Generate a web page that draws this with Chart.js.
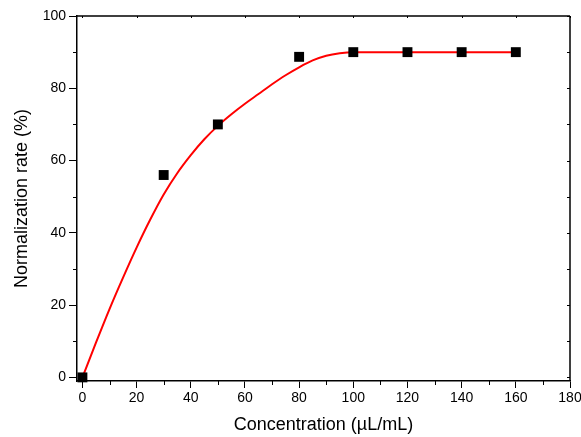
<!DOCTYPE html>
<html><head><meta charset="utf-8">
<script src="https://cdn.jsdelivr.net/npm/chart.js@4/dist/chart.umd.min.js"></script>
<style>html,body{margin:0;padding:0;background:#fff;overflow:hidden;}</style>
</head><body>
<canvas id="c" width="581" height="437"></canvas>
<script>
const concentrations = [0, 30, 50, 80, 100, 120, 140, 160];
const normalizationRates = [0, 56, 70, 88.7, 90, 90, 90, 90];
const fitConcentrations = [0, 5, 10, 15, 20, 25, 30, 35, 40, 45, 50, 55, 60, 65, 70, 75, 80, 85, 90, 95, 100, 110, 120, 130, 140, 150, 160];
const fitRates = [0, 9.6, 18.9, 27.6, 35.9, 43.6, 50.6, 56.5, 61.5, 65.9, 69.6, 72.8, 75.7, 78.4, 81.1, 83.6, 85.8, 87.7, 89.0, 89.7, 90, 90, 90, 90, 90, 90, 90];
const xTickValues = [0, 20, 40, 60, 80, 100, 120, 140, 160, 180];
const xMinorTicks = [10, 30, 50, 70, 90, 110, 130, 150, 170];
const yTickValues = [0, 20, 40, 60, 80, 100];
const yMinorTicks = [10, 30, 50, 70, 90];
const xTitle = 'Concentration (\u00b5L/mL)';
const yTitle = 'Normalization rate (%)';

const FONT = '"Liberation Sans", Arial, sans-serif';
const AXIS = '#000';

const framePlugin = {
  id: 'frame',
  afterDraw(chart) {
    const ctx = chart.ctx, a = chart.chartArea;
    const xs = chart.scales.x, ys = chart.scales.y;
    ctx.save();
    ctx.strokeStyle = AXIS;
    ctx.lineWidth = 1.5;
    ctx.beginPath();
    ctx.moveTo(a.left, a.top); ctx.lineTo(a.right, a.top);
    ctx.moveTo(a.right, a.top); ctx.lineTo(a.right, a.bottom);
    ctx.stroke();
    ctx.lineWidth = 1;
    ctx.beginPath();
    xMinorTicks.forEach(v => {
      const p = Math.round(xs.getPixelForValue(v)) + 0.5;
      ctx.moveTo(p, a.bottom); ctx.lineTo(p, a.bottom + 4);
    });
    yMinorTicks.forEach(v => {
      const p = Math.round(ys.getPixelForValue(v)) + 0.5;
      ctx.moveTo(a.left, p); ctx.lineTo(a.left - 4, p);
      ctx.moveTo(a.right, p); ctx.lineTo(a.right - 3, p);
    });
    yTickValues.forEach(v => {
      const p = Math.round(ys.getPixelForValue(v)) + 0.5;
      ctx.moveTo(a.right, p); ctx.lineTo(a.right - 3, p);
    });
    xTickValues.forEach(v => {
      const p = Math.round(xs.getPixelForValue(v)) + 0.5;
      ctx.moveTo(p, a.top); ctx.lineTo(p, a.top + 2);
    });
    ctx.stroke();
    ctx.restore();
  }
};

new Chart(document.getElementById('c'), {
  type: 'scatter',
  data: {
    datasets: [
      {
        type: 'line',
        data: fitConcentrations.map((x, i) => ({x, y: fitRates[i]})),
        borderColor: '#ff0000',
        borderWidth: 2,
        pointRadius: 0,
        cubicInterpolationMode: 'monotone',
        fill: false,
        order: 2
      },
      {
        data: concentrations.map((x, i) => ({x, y: normalizationRates[i]})),
        pointStyle: 'rect',
        pointRadius: 7,
        pointHoverRadius: 7,
        backgroundColor: '#000',
        borderColor: '#000',
        borderWidth: 0,
        clip: false,
        order: 1
      }
    ]
  },
  options: {
    responsive: false,
    animation: false,
    devicePixelRatio: 1,
    layout: {padding: {left: 0, right: 11, top: 16, bottom: 0}},
    plugins: {legend: {display: false}, tooltip: {enabled: false}},
    scales: {
      x: {
        type: 'linear',
        min: -2, max: 180,
        afterBuildTicks: s => { s.ticks = xTickValues.map(v => ({value: v})); },
        afterFit: s => { s.height = 56; s.paddingRight = 0; s.paddingLeft = 0; },
        border: {display: true, color: AXIS, width: 1.5},
        grid: {display: true, drawOnChartArea: false, drawTicks: true, tickLength: 7, tickColor: AXIS, tickWidth: 1},
        ticks: {color: '#000', font: {family: FONT, size: 14}, padding: 2, maxRotation: 0, autoSkip: false},
        title: {display: true, text: xTitle, color: '#000', font: {family: FONT, size: 18}, padding: {top: 0, bottom: 1}}
      },
      y: {
        type: 'linear',
        min: -1, max: 100,
        afterBuildTicks: s => { s.ticks = yTickValues.map(v => ({value: v})); },
        afterFit: s => { s.width = 77; s.paddingTop = 0; s.paddingBottom = 0; },
        border: {display: true, color: AXIS, width: 1.5},
        grid: {display: true, drawOnChartArea: false, drawTicks: true, tickLength: 8, tickColor: AXIS, tickWidth: 1},
        ticks: {color: '#000', font: {family: FONT, size: 14}, padding: 3, autoSkip: false},
        title: {display: true, text: yTitle, color: '#000', font: {family: FONT, size: 18}, padding: {top: 11, bottom: 0}}
      }
    }
  },
  plugins: [framePlugin]
});
</script>
</body></html>
